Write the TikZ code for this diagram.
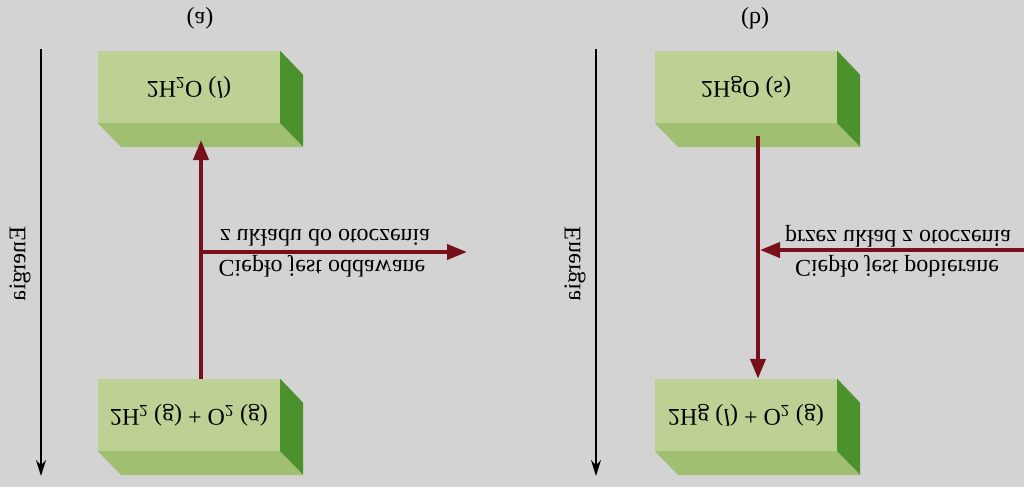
\documentclass[tikz,border=0pt]{standalone}
\usepackage{fontspec}
\setmainfont{Liberation Serif}
\usepackage{tikz}
\usetikzlibrary{arrows.meta}
\definecolor{paper}{HTML}{D3D3D3}
\definecolor{front}{HTML}{BDD195}
\definecolor{lid}{HTML}{A0BF70}
\definecolor{side}{HTML}{4B922C}
\definecolor{heatred}{HTML}{78101C}
\begin{document}
\begin{tikzpicture}[x=1pt,y=1pt,yscale=-1,transform shape,
        every node/.style={font=\fontsize{24}{28}\selectfont,inner sep=1pt},
        block/.style={fill=front,minimum width=182pt,minimum height=72pt,inner sep=0},
        heat/.style={draw=heatred,line width=4pt,-{Triangle[width=15pt,length=20pt]}},
        axis/.style={line width=1.6pt,-{Stealth[width=10pt,length=16pt]}}]
        \fill[paper] (0,0) rectangle (1024,487);
        \useasboundingbox (0,0) rectangle (1024,487);
        \node (aTitle) at (200,18) {(a)};
        \node (bTitle) at (755,18) {(b)};
        \node[block] (aTop) at (189,87) {2H\textsubscript{2}O (\textit{l})};
        \node[block] (aBot) at (189,415) {2H\textsubscript{2} (g) + O\textsubscript{2} (g)};
        \node[block] (bTop) at (746,87) {2HgO (s)};
        \node[block] (bBot) at (746,415) {2Hg (\textit{l}) + O\textsubscript{2} (g)};
        \foreach \b in {aTop,aBot,bTop,bBot} {
          \fill[lid] (\b.north west) -- (\b.north east) -- ++(23,24) -- ++(-182,0) -- cycle;
          \fill[side] (\b.south east) -- ++(23,24) -- ++(0,72) -- (\b.north east) -- cycle;
        }
        \coordinate (aAxis0) at (41,49);
        \coordinate (aAxis1) at (41,476);
        \coordinate (bAxis0) at (596,49);
        \coordinate (bAxis1) at (596,476);
        \draw[axis] (aAxis0) -- (aAxis1);
        \draw[axis] (bAxis0) -- (bAxis1);
        \node[rotate=90] (aEnergy) at (20,264) {Energia};
        \node[rotate=90] (bEnergy) at (575,264) {Energia};
        \coordinate (aSplit) at (201,252);
        \coordinate (aTip) at (201,140);
        \coordinate (aOut) at (467,252);
        \draw[heat] (aBot.south -| aSplit) -- (aTip);
        \draw[heat] (aSplit) -- (aOut);
        \node (aUp) at (325,238) {z układu do otoczenia};
        \node (aLow) at (322,266) {Ciepło jest oddawane};
        \coordinate (bTail) at (758,136);
        \coordinate (bSplit) at (760,250);
        \coordinate (bIn) at (1024,250);
        \draw[heat] (bTail) -- (bBot.south -| bTail);
        \draw[heat] (bIn) -- (bSplit);
        \node (bUp) at (898,236) {przez układ z otoczenia};
        \node (bLow) at (897,266) {Ciepło jest pobierane};
      \end{tikzpicture}
\end{document}
